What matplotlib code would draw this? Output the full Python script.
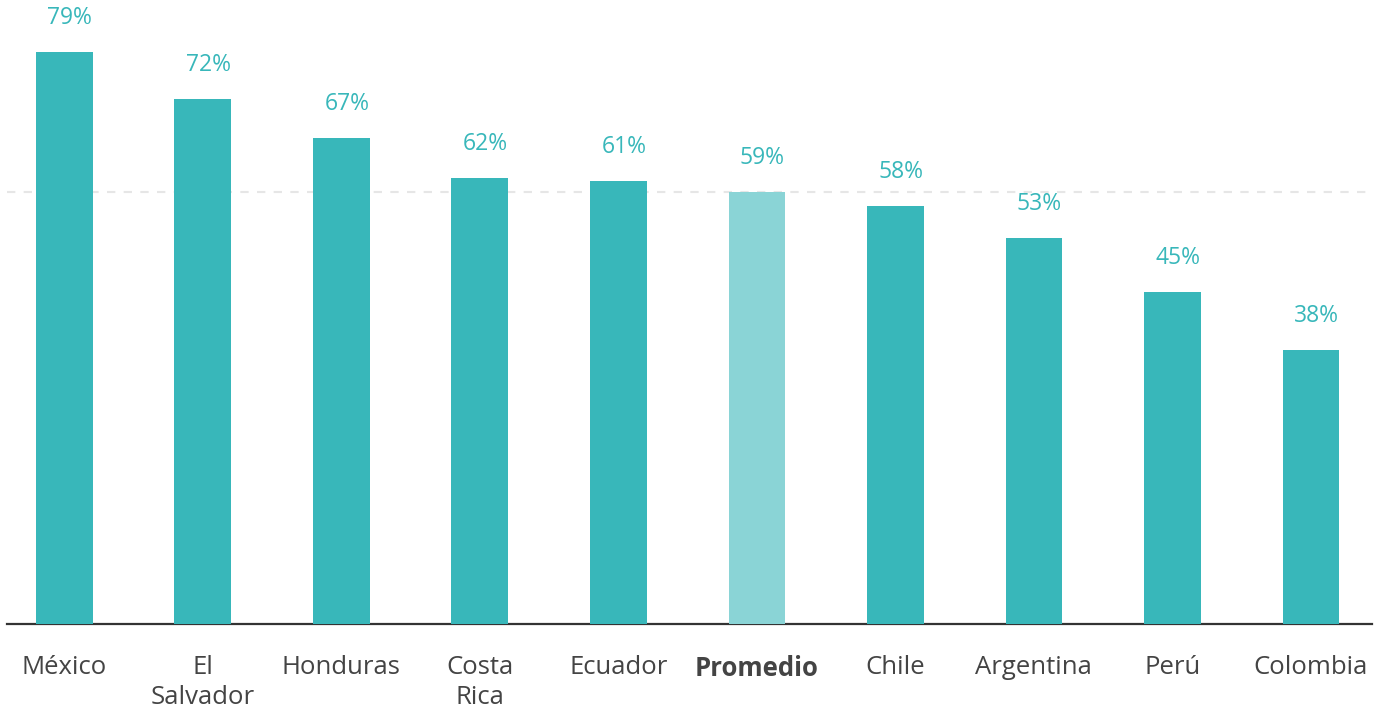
import matplotlib.pyplot as plt

countries = ["México", "El\nSalvador", "Honduras", "Costa\nRica", "Ecuador",
             "Promedio", "Chile", "Argentina", "Perú", "Colombia"]
values = [79.0, 72.5, 67.1, 61.6, 61.2, 59.7, 57.7, 53.3, 45.9, 37.8]
labels = ["79%", "72%", "67%", "62%", "61%", "59%", "58%", "53%", "45%", "38%"]
average = 59.7

teal = "#38b7ba"
light_teal = "#8ad4d6"
colors = [light_teal if c == "Promedio" else teal for c in countries]

plt.rcParams["font.family"] = ["Open Sans", "DejaVu Sans"]

fig = plt.figure(figsize=(13.8, 7.1), dpi=100)
ax = fig.add_axes([0.005, 0.1211, 0.9895, 0.8789])

x = range(len(countries))
ax.bar(x, values, width=0.41, color=colors, zorder=3)

# dashed reference line at the average
ax.axhline(average, color="#e6e6e6", lw=1.5, ls=(0, (4, 4)), zorder=1)

# value labels
for xi, v, lab in zip(x, values, labels):
    ax.annotate(lab, (xi, v), xytext=(4, 24.5), textcoords="offset points",
                ha="center", va="center", fontsize=16.5, color=teal)

ax.set_xlim(-0.415, 9.444)
ax.set_ylim(0, 86.2)
ax.set_xticks(list(x))
ax.set_xticklabels(countries, fontsize=18.5, color="#444444", linespacing=1.3)
for lbl in ax.get_xticklabels():
    if lbl.get_text() == "Promedio":
        lbl.set_fontweight("bold")
ax.tick_params(axis="x", length=0, pad=22)
ax.set_yticks([])
for s in ["top", "right", "left"]:
    ax.spines[s].set_visible(False)
ax.spines["bottom"].set_color("#333333")
ax.spines["bottom"].set_linewidth(1.6)

fig.savefig("out.png", dpi=100)
